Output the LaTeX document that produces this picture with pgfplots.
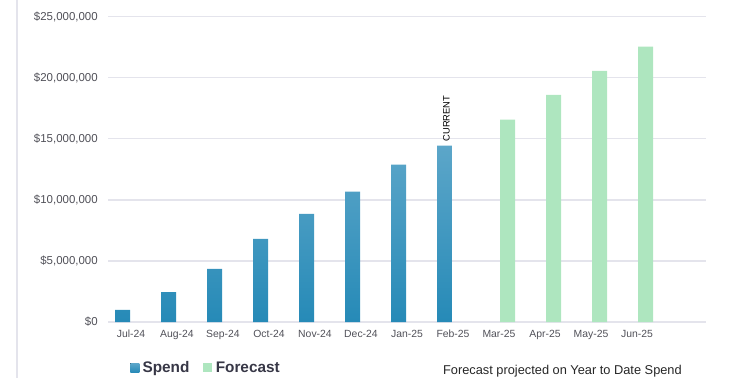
\documentclass[border=0pt]{standalone}
\usepackage{fontspec}
\setmainfont{Liberation Sans}
\usepackage{pgfplots}
\pgfplotsset{compat=1.18}
\definecolor{spendtop}{RGB}{92,166,201}
\definecolor{spendbot}{RGB}{38,138,183}
\definecolor{fc}{RGB}{174,230,191}
\definecolor{gridc}{RGB}{228,228,236}
\definecolor{ticklab}{RGB}{80,80,88}
\definecolor{legtext}{RGB}{55,55,70}
\begin{document}
\begin{tikzpicture}
\path[use as bounding box] (0,0) rectangle (553.5pt,283.5pt);
\draw[gridc, line width=1.5pt] (12.75pt,0) -- (12.75pt,283.5pt);
\begin{axis}[
  at={(81pt,42pt)}, anchor=south west,
  scale only axis, width=448.5pt, height=229.1pt,
  xmin=-0.5, xmax=12.5, ymin=0, ymax=25e6,
  axis line style={draw=none},
  major tick length=0pt,
  ymajorgrids, grid style={gridc, line width=1.1pt},
  ytick={0,5e6,10e6,15e6,20e6,25e6},
  yticklabels={\$0,{\$5,000,000},{\$10,000,000},{\$15,000,000},{\$20,000,000},{\$25,000,000}},
  scaled y ticks=false,
  xtick={0,...,11},
  xticklabels={Jul-24,Aug-24,Sep-24,Oct-24,Nov-24,Dec-24,Jan-25,Feb-25,Mar-25,Apr-25,May-25,Jun-25},
  yticklabel style={font=\fontsize{8.6}{10}\selectfont, text=ticklab, anchor=east, inner sep=0pt, xshift=-7.5pt},
  xticklabel style={font=\fontsize{7.8}{10}\selectfont, text=ticklab, anchor=north, inner sep=0pt, yshift=-6pt},
  ybar, bar width=11.25pt,
  clip=false,
  legend columns=2,
  legend style={at={(0.0368,-0.15)}, anchor=west, draw=none, fill=none,
    font=\fontsize{11.5}{13}\selectfont\bfseries, text=legtext,
    /tikz/every even column/.append style={column sep=8pt},
    inner sep=0pt, nodes={inner sep=2.5pt}},
  legend image code/.code={\fill[#1] (0pt,-3.4pt) rectangle (6.75pt,3.4pt);},
]
\addplot[bar shift=-6.375pt, draw=none, top color=spendtop, bottom color=spendbot]
  coordinates {(0,1.0e6) (1,2.45e6) (2,4.34e6) (3,6.8e6) (4,8.85e6) (5,10.66e6) (6,12.87e6) (7,14.43e6)};
\addlegendentry{Spend}
\addplot[bar shift=6.375pt, draw=none, fill=fc]
  coordinates {(8,16.56e6) (9,18.58e6) (10,20.55e6) (11,22.54e6)};
\addlegendentry{Forecast}
\node[xshift=-4.9pt, yshift=3pt, rotate=90, anchor=west, font=\fontsize{7}{8}\selectfont, inner sep=0pt] at (axis cs:7,14.43e6) {CURRENT};
\node[anchor=west, font=\fontsize{9.6}{11}\selectfont, text=black!85, inner sep=0pt] at (rel axis cs:0.560,-0.160) {Forecast projected on Year to Date Spend};
\end{axis}
\end{tikzpicture}
\end{document}
